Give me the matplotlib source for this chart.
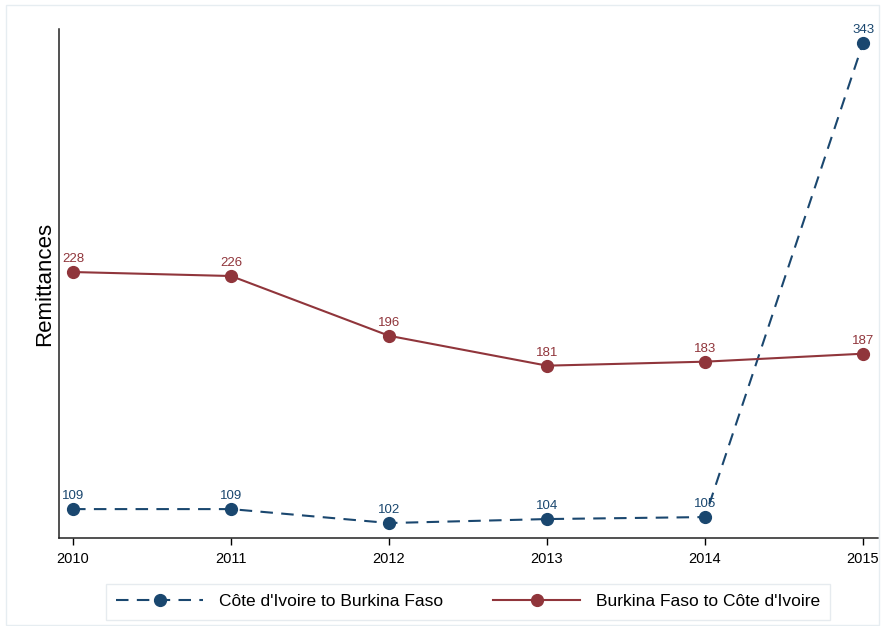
import matplotlib.pyplot as plt
from matplotlib.patches import Rectangle

plt.rcParams["font.family"] = ["Liberation Sans", "DejaVu Sans"]

# data
years = [2010, 2011, 2012, 2013, 2014, 2015]
ci_to_bf = [109, 109, 102, 104, 105, 343]
bf_to_ci = [228, 226, 196, 181, 183, 187]

NAVY = "#1a476f"
MAROON = "#90353b"

fig = plt.figure(figsize=(8.82, 6.26), dpi=100)
ax = fig.add_axes([0.0669, 0.1406, 0.9286, 0.8131])

# faint outer frame like the stata graph region
fig.patches.append(Rectangle((0.007, 0.002), 0.99, 0.99, transform=fig.transFigure,
                             fill=False, edgecolor="#e6edf1", linewidth=1))

ax.plot(years, ci_to_bf, color=NAVY, linestyle=(0, (6, 4)), linewidth=1.5,
        marker="o", markersize=8.5, label="Côte d'Ivoire to Burkina Faso")
ax.plot(years, bf_to_ci, color=MAROON, linewidth=1.5,
        marker="o", markersize=8.5, label="Burkina Faso to Côte d'Ivoire")

for x, y in zip(years, ci_to_bf):
    ax.annotate(str(y), (x, y), xytext=(0, 5), textcoords="offset points",
                ha="center", va="bottom", fontsize=9.5, color=NAVY)
for x, y in zip(years, bf_to_ci):
    ax.annotate(str(y), (x, y), xytext=(0, 5), textcoords="offset points",
                ha="center", va="bottom", fontsize=9.5, color=MAROON)

ax.set_xlim(2009.911, 2015.095)
ax.set_ylim(94.5, 350)
ax.set_xticks(years)
ax.tick_params(axis="x", labelsize=10.5, length=5, width=1, pad=5)
ax.set_yticks([])
ax.set_ylabel("Remittances", fontsize=16, labelpad=3)

for side in ["top", "right"]:
    ax.spines[side].set_visible(False)
for side in ["left", "bottom"]:
    ax.spines[side].set_linewidth(1.1)
    ax.spines[side].set_color("#222222")

leg = fig.legend(loc="center", bbox_to_anchor=(0.5307, 0.0385), ncol=2,
                 fontsize=12.5, frameon=True, fancybox=False, handlelength=5,
                 columnspacing=2.9, borderpad=0.6, handletextpad=0.9)
leg.get_frame().set_edgecolor("#e0e7eb")
leg.get_frame().set_linewidth(1)

fig.savefig("out.png", dpi=100)
